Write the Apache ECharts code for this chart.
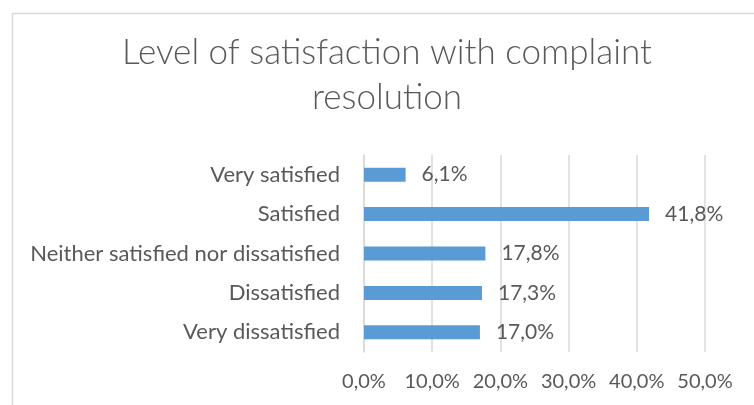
<!DOCTYPE html>
<html>
<head>
<meta charset="utf-8">
<script src="https://cdn.jsdelivr.net/npm/echarts@6/dist/echarts.min.js"></script>
<style>
  html, body { margin: 0; padding: 0; background: #fff; }
  #chart { width: 754px; height: 405px; }
</style>
</head>
<body>
<div id="chart"></div>
<script>
// Survey answers, listed top to bottom as they appear on the chart
const categories = [
  'Very satisfied',
  'Satisfied',
  'Neither satisfied nor dissatisfied',
  'Dissatisfied',
  'Very dissatisfied'
];
// Share of respondents per answer, in percent
const shares = [6.1, 41.8, 17.8, 17.3, 17.0];
// Value axis ticks, in percent
const axisTicks = [0, 10, 20, 30, 40, 50];

const FONT = 'Lato, "Open Sans", sans-serif';
const TEXT = '#595959';
const pct = v => Number(v).toFixed(1).replace('.', ',') + '%';

const chart = echarts.init(document.getElementById('chart'), null, { renderer: 'canvas' });

chart.setOption({
  backgroundColor: '#ffffff',
  animation: false,
  textStyle: { fontFamily: FONT },
  title: {
    text: 'Level of satisfaction with complaint\nresolution',
    left: 382,
    textAlign: 'center',
    top: 25,
    textStyle: {
      fontFamily: FONT,
      fontSize: 35,
      fontWeight: 300,
      lineHeight: 45,
      color: TEXT
    }
  },
  graphic: [{
    type: 'rect',
    left: 10,
    top: 11,
    shape: { width: 800, height: 500 },
    style: { fill: 'none', stroke: '#d9d9d9', lineWidth: 1.5 },
    silent: true
  }],
  grid: {
    left: 364,
    right: 49,
    top: 155,
    bottom: 53,
    containLabel: false
  },
  xAxis: {
    type: 'value',
    min: axisTicks[0],
    max: axisTicks[axisTicks.length - 1],
    interval: axisTicks[1] - axisTicks[0],
    axisLine: { show: false },
    axisTick: { show: false },
    splitLine: { lineStyle: { color: '#d9d9d9', width: 1.5 } },
    axisLabel: {
      formatter: pct,
      margin: 20,
      fontFamily: FONT,
      fontSize: 20,
      color: TEXT
    }
  },
  yAxis: {
    type: 'category',
    inverse: true,
    data: categories,
    axisLine: { show: true, lineStyle: { color: '#d9d9d9', width: 1.5 } },
    axisTick: { show: false },
    axisLabel: {
      margin: 24,
      fontFamily: FONT,
      fontSize: 22,
      color: TEXT
    }
  },
  series: [{
    type: 'bar',
    data: shares,
    barWidth: 14,
    itemStyle: { color: '#5b9bd5' },
    label: {
      show: true,
      position: 'right',
      distance: 16,
      formatter: p => pct(p.value),
      fontFamily: FONT,
      fontSize: 21,
      color: TEXT
    }
  }]
});
</script>
</body>
</html>
